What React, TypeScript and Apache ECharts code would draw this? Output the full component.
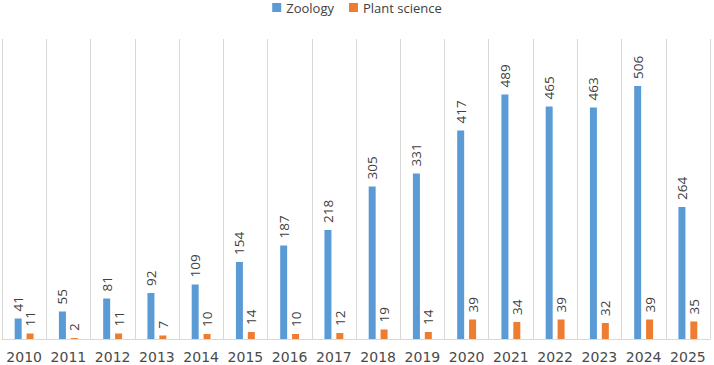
import React, { useEffect, useRef } from "react";
import * as echarts from "echarts";

const years = ["2010", "2011", "2012", "2013", "2014", "2015", "2016", "2017", "2018", "2019", "2020", "2021", "2022", "2023", "2024", "2025"];
const zoology = [41, 55, 81, 92, 109, 154, 187, 218, 305, 331, 417, 489, 465, 463, 506, 264];
const plantScience = [11, 2, 11, 7, 10, 14, 10, 12, 19, 14, 39, 34, 39, 32, 39, 35];

const FONT = "'Open Sans', 'Noto Sans', sans-serif";

export default function App() {
  const ref = useRef<HTMLDivElement>(null);

  useEffect(() => {
    if (!ref.current) return;
    const chart = echarts.init(ref.current, undefined, { renderer: "svg" });
    const valueLabel = {
      show: true,
      position: "top" as const,
      rotate: 90,
      align: "left" as const,
      verticalAlign: "middle" as const,
      distance: 7,
      fontSize: 13.5,
      color: "#404040",
      fontFamily: FONT,
    };
    chart.setOption({
      animation: false,
      textStyle: { fontFamily: FONT },
      legend: {
        top: 1,
        left: "center",
        padding: 0,
        itemWidth: 9,
        itemHeight: 9,
        itemGap: 15,
        icon: "rect",
        textStyle: { fontSize: 13, color: "#404040", fontFamily: FONT },
      },
      grid: { left: 2, right: 4, top: 39, bottom: 26, containLabel: false },
      xAxis: {
        type: "category",
        data: years,
        axisLine: { show: true, lineStyle: { color: "#d9d9d9" } },
        axisTick: { show: false },
        splitLine: { show: true, interval: 0, lineStyle: { color: "#d9d9d9" } },
        axisLabel: {
          fontSize: 14,
          color: "#4a4a4a",
          margin: 11,
          fontFamily: "'DejaVu Sans', sans-serif",
          interval: 0,
        },
      },
      yAxis: {
        type: "value",
        min: 0,
        max: 600,
        show: false,
        splitLine: { show: false },
      },
      series: [
        {
          name: "Zoology",
          type: "bar",
          data: zoology,
          barWidth: 7,
          barGap: "70%",
          itemStyle: { color: "#5b9bd5" },
          label: valueLabel,
        },
        {
          name: "Plant science",
          type: "bar",
          data: plantScience,
          barWidth: 7,
          itemStyle: { color: "#ed7d31" },
          label: valueLabel,
        },
      ],
    });
    return () => chart.dispose();
  }, []);

  return (
    <div
      ref={ref}
      style={{ position: "absolute", left: 0, top: 0, width: 714, height: 365 }}
    />
  );
}
